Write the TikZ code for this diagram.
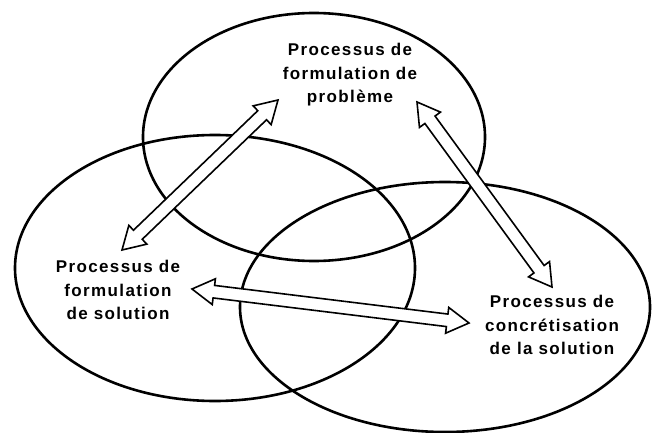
\documentclass[tikz,border=0pt]{standalone}
\usepackage{fontspec}
\setmainfont{Liberation Sans}[LetterSpace=8]
\usetikzlibrary{calc}

% hollow double-headed arrow between two named points
\newcommand\hollowarrow[2]{%
  \draw[arrowbody]
    (#1)
    -- ($($(#1)!\headlen!(#2)$)!\headhw!90:(#2)$)
    -- ($($(#1)!\headlen!(#2)$)!\shafthw!90:(#2)$)
    -- ($($(#2)!\headlen!(#1)$)!\shafthw!-90:(#1)$)
    -- ($($(#2)!\headlen!(#1)$)!\headhw!-90:(#1)$)
    -- (#2)
    -- ($($(#2)!\headlen!(#1)$)!\headhw!90:(#1)$)
    -- ($($(#2)!\headlen!(#1)$)!\shafthw!90:(#1)$)
    -- ($($(#1)!\headlen!(#2)$)!\shafthw!-90:(#2)$)
    -- ($($(#1)!\headlen!(#2)$)!\headhw!-90:(#2)$)
    -- cycle;}
\newcommand\headlen{22pt}
\newcommand\headhw{13pt}
\newcommand\shafthw{6.3pt}

\tikzset{
  process/.style={draw=black, line width=2.6pt},
  label/.style={align=center, font=\fontsize{17}{23.5}\selectfont\bfseries},
  arrowbody/.style={draw=black, fill=white, line width=1.6pt, line join=miter},
}

\begin{document}
\begin{tikzpicture}[x=1pt, y=-1pt]
  \useasboundingbox (0,0) rectangle (653,433);

  % the three overlapping process areas
  \draw[process] (314,137) ellipse [x radius=171pt, y radius=124pt];
  \draw[process] (215,268) ellipse [x radius=200pt, y radius=133pt];
  \draw[process] (445,307) ellipse [x radius=205pt, y radius=125pt];

  % labels
  \node[label] (prob) at (350,75) {Processus de\\formulation de\\problème};
  \node[label] (sol)  at (118,290) {Processus de\\formulation\\de solution};
  \node[label] (conc) at (552,325) {Processus de\\concrétisation\\de la solution};

  % arrow end points
  \coordinate (pa) at (278,100);
  \coordinate (sa) at (122,250);
  \coordinate (pb) at (417,102);
  \coordinate (ca) at (552,287);
  \coordinate (sb) at (192,289);
  \coordinate (cb) at (469,323);

  \hollowarrow{sa}{pa}
  \hollowarrow{pb}{ca}
  \hollowarrow{sb}{cb}
\end{tikzpicture}
\end{document}
